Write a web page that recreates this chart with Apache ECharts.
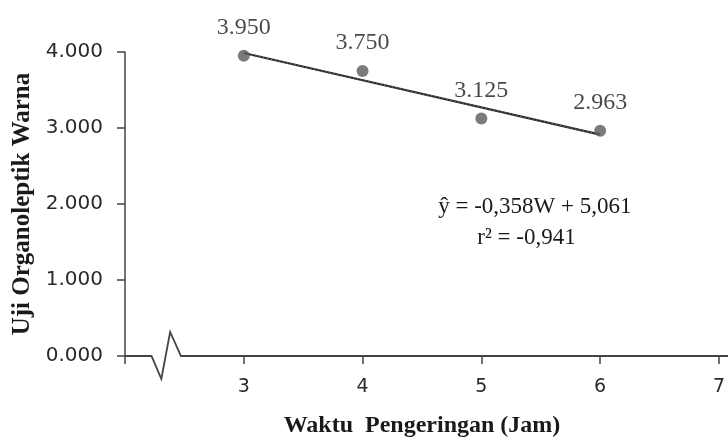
<!DOCTYPE html>
<html>
<head>
<meta charset="utf-8">
<script src="https://cdn.jsdelivr.net/npm/echarts@6/dist/echarts.min.js"></script>
<style>
html,body{margin:0;padding:0;background:#fff;}
#chart{width:728px;height:443px;}
</style>
</head>
<body>
<div id="chart"></div>
<script>
// ---- data ----
const xValues = [3, 4, 5, 6];
const yValues = [3.950, 3.750, 3.125, 2.963];
const trendX = [3, 6];
const trendY = [3.987, 2.913];
const xTickLabels = ['', '3', '4', '5', '6', '7'];
const yTickLabels = ['0.000', '1.000', '2.000', '3.000', '4.000'];
const eqLine1 = 'ŷ = -0,358W + 5,061';
const eqLine2 = 'r² = -0,941';
const xTitle = 'Waktu  Pengeringan (Jam)';
const yTitle = 'Uji Organoleptik Warna';

const chart = echarts.init(document.getElementById('chart'), null, {renderer: 'canvas'});
const axisColor = '#444';
const serif = '"Liberation Serif", "Times New Roman", serif';
const sans = '"DejaVu Sans", Verdana, sans-serif';

const pointData = xValues.map((x, i) => [x, yValues[i]]);
const trendData = trendX.map((x, i) => [x, trendY[i]]);

chart.setOption({
  animation: false,
  grid: {left: 125, right: -2, top: 52, bottom: 82, containLabel: false},
  xAxis: {
    type: 'value', min: 2, max: 7, interval: 1,
    name: xTitle, nameLocation: 'middle', nameGap: 58,
    nameTextStyle: {fontFamily: serif, fontWeight: 'bold', fontSize: 24, color: '#1a1a1a'},
    axisLine: {show: false},
    axisTick: {show: true, length: 8, lineStyle: {color: axisColor, width: 1.5}},
    axisLabel: {
      margin: 22, fontFamily: sans, fontSize: 19, color: '#2a2a2a',
      showMinLabel: true, showMaxLabel: true,
      formatter: v => xTickLabels[Math.round(v) - 2]
    },
    splitLine: {show: false}
  },
  yAxis: {
    type: 'value', min: 0, max: 4, interval: 1,
    name: yTitle, nameLocation: 'middle', nameGap: 90, nameRotate: 90,
    nameTextStyle: {fontFamily: serif, fontWeight: 'bold', fontSize: 25, color: '#1a1a1a'},
    axisLine: {show: true, lineStyle: {color: axisColor, width: 1.5}},
    axisTick: {show: true, length: 8, lineStyle: {color: axisColor, width: 1.5}},
    axisLabel: {
      margin: 22, fontFamily: sans, fontSize: 20, color: '#2a2a2a',
      formatter: v => yTickLabels[Math.round(v)]
    },
    splitLine: {show: false}
  },
  series: [
    {
      type: 'line', data: trendData, symbol: 'none', z: 2,
      lineStyle: {color: '#2a2a2a', width: 2.2}
    },
    {
      type: 'line', data: trendData, symbol: 'none', z: 3,
      lineStyle: {color: '#8a8a8a', width: 1, type: [1, 3]}
    },
    {
      type: 'scatter', data: pointData, symbolSize: 12, z: 4,
      itemStyle: {color: '#5a5a5a'},
      label: {
        show: true, position: 'top', distance: 10,
        fontFamily: serif, fontSize: 24, color: '#1a1a1a',
        formatter: p => p.value[1].toFixed(3)
      }
    }
  ]
});

function drawExtras() {
  const p = (x, y) => chart.convertToPixel({gridIndex: 0}, [x, y]);
  const o = p(2, 0);
  const a = p(2.223, 0), b = p(2.306, 0), c = p(2.38, 0), d = p(2.471, 0), e = p(7.2, 0);
  const eq1 = p(5.45, 1.955);
  const eq2 = p(5.38, 1.553);
  chart.setOption({
    graphic: [
      {
        type: 'polyline', silent: true, z: 10,
        shape: {points: [[o[0], o[1]], [a[0], a[1]], [b[0], b[1] + 23], [c[0], c[1] - 24], [d[0], d[1]], [e[0], e[1]]]},
        style: {stroke: axisColor, lineWidth: 1.8, fill: null}
      },
      {
        type: 'text', x: eq1[0], y: eq1[1], z: 10,
        style: {text: eqLine1, font: '23px ' + serif, fill: '#1a1a1a', textAlign: 'center', textVerticalAlign: 'middle'}
      },
      {
        type: 'text', x: eq2[0], y: eq2[1], z: 10,
        style: {text: eqLine2, font: '23px ' + serif, fill: '#1a1a1a', textAlign: 'center', textVerticalAlign: 'middle'}
      }
    ]
  });
}
drawExtras();
</script>
</body>
</html>
